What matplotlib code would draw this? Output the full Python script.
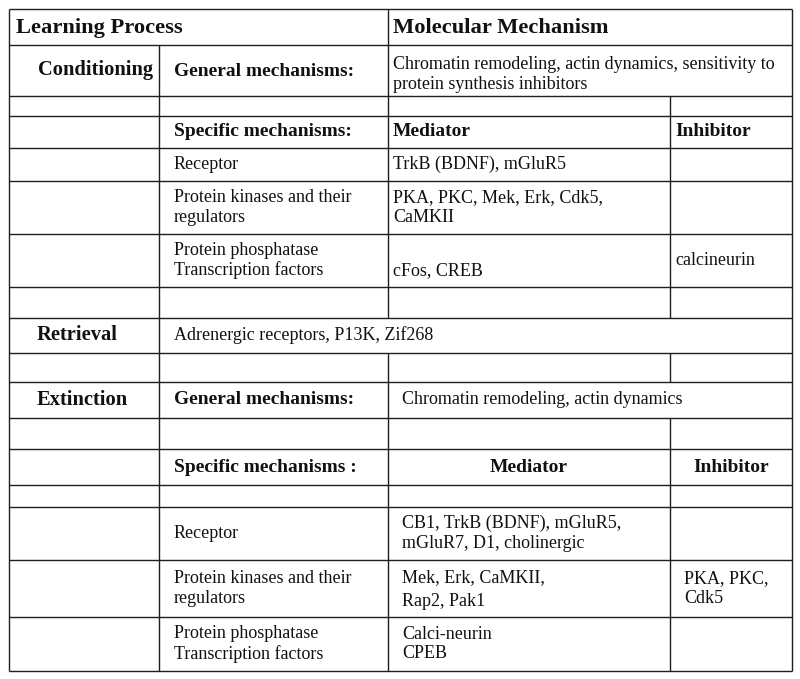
import matplotlib
matplotlib.use("Agg")
import matplotlib.pyplot as plt

# table text
header_left = "Learning Process"
header_right = "Molecular Mechanism"
sections = ["Conditioning", "Retrieval", "Extinction"]
general_label = "General mechanisms:"
cond_general = "Chromatin remodeling, actin dynamics, sensitivity to\nprotein synthesis inhibitors"
ext_general = "Chromatin remodeling, actin dynamics"
retrieval_text = "Adrenergic receptors, P13K, Zif268"
specific_labels = ["Specific mechanisms:", "Specific mechanisms :"]
col_heads = ["Mediator", "Inhibitor"]
mech_labels = ["Receptor",
               "Protein kinases and their\nregulators",
               "Protein phosphatase\nTranscription factors"]
cond_mediators = ["TrkB (BDNF), mGluR5",
                  "PKA, PKC, Mek, Erk, Cdk5,\nCaMKII",
                  "\ncFos, CREB"]
cond_inhibitors = ["", "", "calcineurin"]
ext_mediators = ["CB1, TrkB (BDNF), mGluR5,\nmGluR7, D1, cholinergic",
                 "Mek, Erk, CaMKII,\nRap2, Pak1",
                 "Calci-neurin\nCPEB"]
ext_inhibitors = ["", "PKA, PKC,\nCdk5", ""]

# grid in pixels
X = [9, 159, 388, 670, 792]
Y = [9, 45, 96, 116, 148, 181, 234, 287, 318, 353, 382, 418, 449, 485, 507, 560, 617, 671]
# which inner vertical lines each row has
row_splits = [[2], [1, 2]] + [[1, 2, 3]] * 6 + [[1], [1, 2, 3], [1, 2]] + [[1, 2, 3]] * 6

fig = plt.figure(figsize=(8, 6.79), dpi=100)
ax = fig.add_axes([0, 0, 1, 1])
ax.set_xlim(0, 800)
ax.set_ylim(679, 0)
ax.axis("off")

lc = "#1e1e1e"
ax.hlines(Y, X[0], X[-1], color=lc, lw=1.0)
ax.vlines([X[0], X[-1]], Y[0], Y[-1], color=lc, lw=1.0)
for r, splits in enumerate(row_splits):
    for s in splits:
        ax.vlines(X[s], Y[r], Y[r + 1], color=lc, lw=1.0)

plt.rcParams["font.family"] = ["Liberation Serif", "DejaVu Serif"]
HEAD = dict(fontsize=16.2, fontweight="bold", color="#111")
SECT = dict(fontsize=14.8, fontweight="bold", color="#111")
BOLD = dict(fontsize=14, fontweight="bold", color="#111")
REG = dict(fontsize=13, color="#111", linespacing=1.2)


def mid(r):
    return (Y[r] + Y[r + 1]) / 2


def put(x, r, s, style, ha="left", dy=0, **kw):
    ax.text(x, mid(r) + dy, s, ha=ha, va="center", **style, **kw)


# header
put(16, 0, header_left, HEAD, dy=1)
put(393, 0, header_right, HEAD, dy=1)

# conditioning
put(38, 1, sections[0], SECT)
put(174, 1, general_label, BOLD, dy=1)
put(393, 1, cond_general, REG, dy=4)
put(174, 3, specific_labels[0], BOLD)
put(393, 3, col_heads[0], BOLD)
put(675, 3, col_heads[1], BOLD)
for i in range(3):
    put(174, 4 + i, mech_labels[i], REG)
    put(393, 4 + i, cond_mediators[i], REG)
    put(675, 4 + i, cond_inhibitors[i], REG)

# retrieval
put(37, 8, sections[1], SECT)
put(174, 8, retrieval_text, REG)

# extinction
put(37, 10, sections[2], SECT)
put(174, 10, general_label, BOLD)
put(402, 10, ext_general, REG)
put(174, 12, specific_labels[1], BOLD)
put((X[2] + X[3]) / 2, 12, col_heads[0], BOLD, ha="center")
put((X[3] + X[4]) / 2, 12, col_heads[1], BOLD, ha="center")
for i in range(3):
    put(174, 14 + i, mech_labels[i], REG)
    sp = 1.5 if i == 1 else 1.2
    ax.text(402, mid(14 + i) + (1 if i == 1 else 0), ext_mediators[i], ha="left", va="center",
            fontsize=13, color="#111", linespacing=sp)
    put(684, 14 + i, ext_inhibitors[i], REG)

fig.savefig("out.png", dpi=100, facecolor="white")
